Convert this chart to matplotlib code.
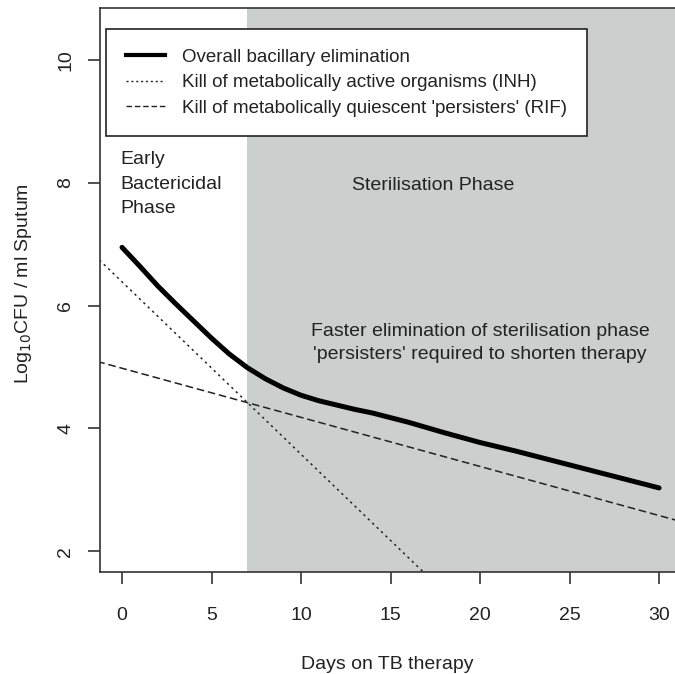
import matplotlib
matplotlib.use("Agg")
import matplotlib.pyplot as plt
from matplotlib.lines import Line2D

plt.rcParams['font.family'] = ['Liberation Sans', 'DejaVu Sans']

# ---- data ----
overall_days = [0, 1, 2, 3, 4, 5, 6, 7, 8, 9, 10, 11, 12, 13, 14, 16, 18, 20, 22, 24, 26, 28, 30]
overall_log = [6.95, 6.64, 6.32, 6.03, 5.75, 5.47, 5.21, 4.99, 4.81, 4.66, 4.54, 4.45, 4.38,
               4.31, 4.25, 4.10, 3.93, 3.77, 3.63, 3.48, 3.33, 3.18, 3.03]
inh_days = [-2, 20]
inh_log = [6.95, 0.77]
rif_days = [-2, 32]
rif_log = [5.14, 2.42]
ebp_end = 7
x_ticks = [0, 5, 10, 15, 20, 25, 30]
y_ticks = [2, 4, 6, 8, 10]
legend_labels = ["Overall bacillary elimination",
                 "Kill of metabolically active organisms (INH)",
                 "Kill of metabolically quiescent 'persisters' (RIF)"]

TXT = '#222222'
fig = plt.figure(figsize=(6.75, 6.74), dpi=100)
ax = fig.add_axes([100/675, 1 - 572/674, 575/675, 564/674])
ax.set_xlim(-1.23, 30.89)
ax.set_ylim(1.66, 10.85)

ax.axvspan(ebp_end, 40, color='#cdcece', lw=0, zorder=0)

ax.plot(overall_days, overall_log, color='black', lw=3.6, solid_capstyle='round',
        solid_joinstyle='round', zorder=3)
ax.plot(inh_days, inh_log, color='#222222', lw=1.1, linestyle=(0, (1.5, 2.5)), zorder=2)
ax.plot(rif_days, rif_log, color='#222222', lw=1.1, linestyle=(0, (5, 2.5)), zorder=2)

ax.set_xticks(x_ticks)
ax.set_yticks(y_ticks)
ax.tick_params(axis='both', direction='out', length=8.5, width=1.2, color='#333333',
               labelsize=14, labelcolor=TXT)
ax.tick_params(axis='x', pad=16.5)
ax.tick_params(axis='y', pad=10)
for lab in ax.get_yticklabels():
    lab.set_rotation(90)
    lab.set_va('center')
for s in ['left', 'bottom', 'top']:
    ax.spines[s].set_color('#333333')
    ax.spines[s].set_linewidth(1.2)
ax.spines['right'].set_visible(False)

ax.set_xlabel('Days on TB therapy', fontsize=14, color=TXT, labelpad=23)
ax.set_ylabel(r'Log$_{10}$CFU / ml Sputum', fontsize=14, color=TXT)
ax.yaxis.set_label_coords(-0.115, 0.512)

handles = [Line2D([], [], color='black', lw=3.0),
           Line2D([], [], color='#222222', lw=1.0, linestyle=(0, (1.5, 2.0))),
           Line2D([], [], color='#222222', lw=1.0, linestyle=(0, (4, 2.0)))]
leg = ax.legend(handles, legend_labels, loc='upper left', bbox_to_anchor=(0.0104, 0.963),
                prop={'size': 13.5}, frameon=True, fancybox=False, framealpha=1,
                edgecolor='#222222', borderpad=1.05, handlelength=2.1, handletextpad=0.9,
                labelspacing=0.45, borderaxespad=0)
leg.get_frame().set_linewidth(1.2)
for t in leg.get_texts():
    t.set_color(TXT)

ax.text(-0.1, 7.98, 'Early\nBactericidal\nPhase', fontsize=14, color=TXT,
        ha='left', va='center', linespacing=1.57)
ax.text(17.4, 7.96, 'Sterilisation Phase', fontsize=14, color=TXT, ha='center', va='center')
ax.text(20.0, 5.39, "Faster elimination of sterilisation phase\n'persisters' required to shorten therapy",
        fontsize=14, color=TXT, ha='center', va='center', linespacing=1.45)

fig.savefig('out.png', dpi=100)
